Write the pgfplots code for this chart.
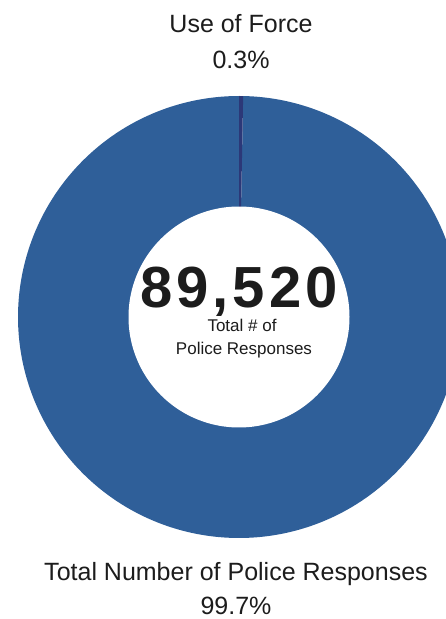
\documentclass[border=0pt]{standalone}
\usepackage{fontspec}
\setmainfont{Liberation Sans}
\usepackage{pgfplots}
\pgfplotsset{compat=1.18}
\definecolor{mainblue}{HTML}{2F5F99}
\definecolor{darkslice}{HTML}{2C3878}
\definecolor{txt}{HTML}{1C1C1C}
\def\cx{239}
\def\cy{302}
\def\R{221}
\def\r{110.5}
% data (percent)
\def\vForce{0.3}
\def\vTotal{99.7}
\begin{document}
\begin{tikzpicture}
\begin{axis}[
  width=446pt, height=619pt, scale only axis,
  xmin=0, xmax=446, ymin=0, ymax=619,
  hide axis, clip mode=individual,
]
% Total number of police responses slice
\addplot[draw=none, fill=mainblue, domain=\vForce:100, samples=500, variable=\t]
  ({\cx+\R*cos(90-3.6*\t)}, {\cy+\R*sin(90-3.6*\t)}) -- (axis cs:\cx,\cy) -- cycle;
% Use of force slice
\addplot[draw=none, fill=darkslice, domain=0:\vForce, samples=6, variable=\t]
  ({\cx+\R*cos(90-3.6*\t)}, {\cy+\R*sin(90-3.6*\t)}) -- (axis cs:\cx,\cy) -- cycle;
% hole
\addplot[draw=none, fill=white, domain=0:360, samples=300, variable=\t]
  ({\cx+\r*cos(\t)}, {\cy+\r*sin(\t)}) -- cycle;
\node[anchor=base, text=txt, font=\fontsize{25}{30}\selectfont] at (axis cs:241,586) {Use of Force};
\node[anchor=base, text=txt, font=\fontsize{25}{30}\selectfont] at (axis cs:241,550) {0.3\%};
\node[anchor=base, text=txt, font=\fontsize{25}{30}\selectfont] at (axis cs:236,38) {Total Number of Police Responses};
\node[anchor=base, text=txt, font=\fontsize{25}{30}\selectfont] at (axis cs:236,5) {99.7\%};
\node[anchor=base, text=txt, font=\fontsize{58}{60}\bfseries\addfontfeatures{LetterSpace=7}] at (axis cs:239,311) {89,520};
\node[anchor=base, text=txt, font=\fontsize{17}{20}\selectfont] at (axis cs:242,287) {Total \# of};
\node[anchor=base, text=txt, font=\fontsize{17}{20}\selectfont] at (axis cs:244,264) {Police Responses};
\end{axis}
\pgfresetboundingbox
\path[use as bounding box] (0,0) rectangle (446pt,619pt);
\end{tikzpicture}
\end{document}
